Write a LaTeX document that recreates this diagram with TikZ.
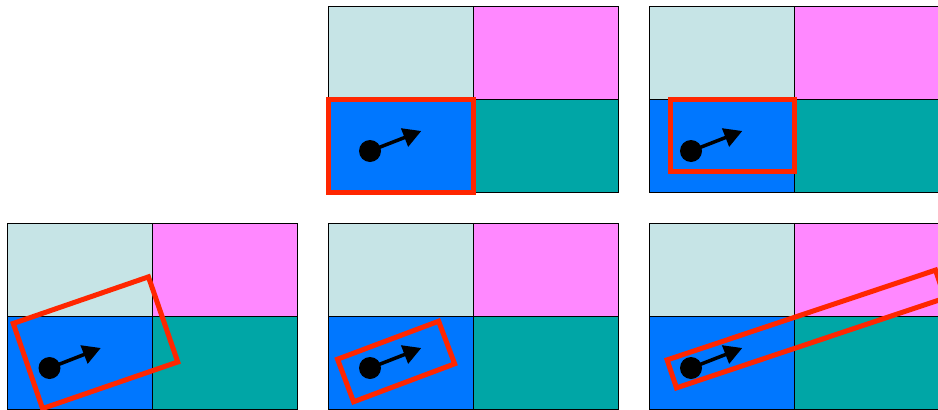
\documentclass[tikz,border=0pt]{standalone}
\usetikzlibrary{arrows.meta}
\definecolor{lightcell}{RGB}{198,228,230}
\definecolor{pinkcell}{RGB}{255,136,255}
\definecolor{bluecell}{RGB}{0,119,255}
\definecolor{tealcell}{RGB}{0,166,166}
\definecolor{boxred}{RGB}{255,38,0}
\tikzset{
  cellbox/.style={draw=black, line width=1pt, inner sep=0pt, outer sep=0pt,
    minimum width=145pt, minimum height=93pt, anchor=north west},
  dotnode/.style={circle, fill=black, inner sep=0pt, minimum size=22pt},
  pointer/.style={-{Triangle[length=18pt,width=19pt]}, line width=3.5pt},
  redbox/.style={draw=boxred, line width=5pt, inner sep=0pt, outer sep=0pt}
}
\newcommand\gridpanel[3]{%
  \node[cellbox, fill=lightcell] (#1a) at (#2,#3) {};
  \node[cellbox, fill=pinkcell]  (#1b) at (#2+145,#3) {};
  \node[cellbox, fill=bluecell]  (#1c) at (#2,#3+93) {};
  \node[cellbox, fill=tealcell]  (#1d) at (#2+145,#3+93) {};
  \node[dotnode] (#1dot) at (#2+42,#3+145) {};
  \coordinate (#1tip) at (#2+93.3,#3+125);
  \draw[pointer] (#1dot.center) -- (#1tip);
}
\begin{document}
\begin{tikzpicture}[x=1pt,y=-1pt]
  \clip (0,0) rectangle (938,410);
  % top row
  \gridpanel{tm}{328}{6}
  \gridpanel{tr}{649}{6}
  % bottom row
  \gridpanel{bl}{7.5}{223}
  \gridpanel{bm}{328}{223}
  \gridpanel{br}{649}{223}
  % red boxes
  \node[redbox, minimum width=145pt, minimum height=93pt] (rtm) at (401,146) {};
  \node[redbox, minimum width=124pt, minimum height=72.3pt] (rtr) at (732.2,135.4) {};
  \node[redbox, minimum width=143pt, minimum height=90pt, rotate=19] (rbl) at (95.5,342.7) {};
  \node[redbox, minimum width=108pt, minimum height=45.5pt, rotate=20.6] (rbm) at (396.1,361.5) {};
  \node[redbox, minimum width=283pt, minimum height=29.5pt, rotate=18.5] (rbr) at (806,329) {};
\end{tikzpicture}
\end{document}
